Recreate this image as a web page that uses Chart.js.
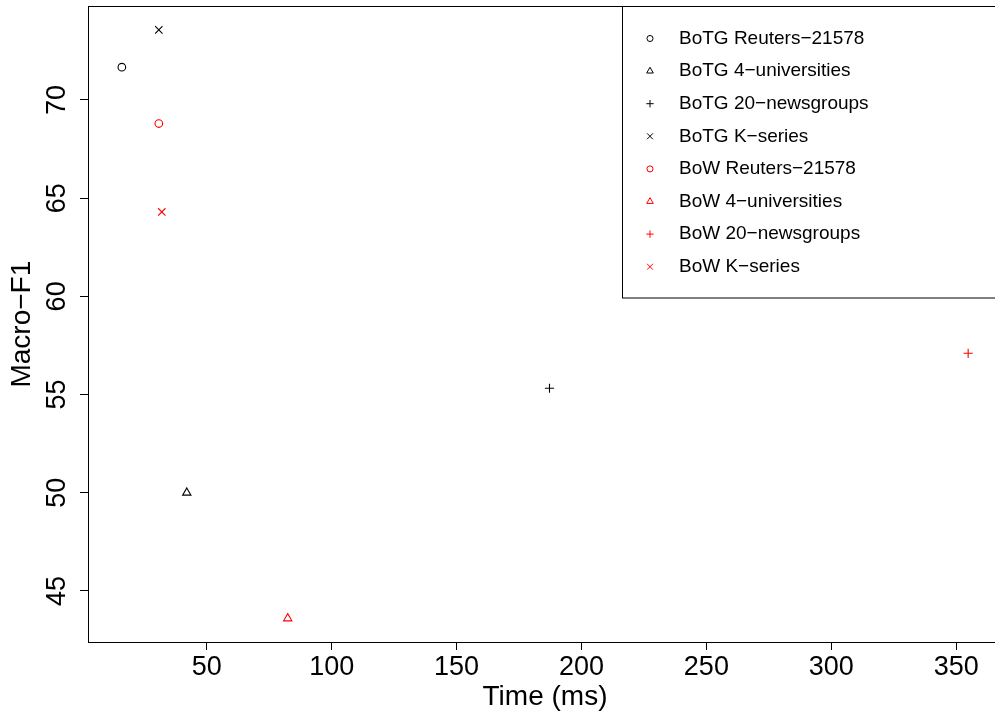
<!DOCTYPE html>
<html>
<head>
<meta charset="utf-8">
<script src="https://cdn.jsdelivr.net/npm/chart.js@4/dist/chart.umd.min.js"></script>
<style>
  html, body { margin: 0; padding: 0; background: #fff; overflow: hidden; }
  #wrap { width: 1010px; height: 714px; }
</style>
</head>
<body>
<div id="wrap"><canvas id="chart" width="1010" height="714"></canvas></div>
<script>
// Data
const SERIES = [
  'BoTG Reuters\u221221578',
  'BoTG 4\u2212universities',
  'BoTG 20\u2212newsgroups',
  'BoTG K\u2212series',
  'BoW Reuters\u221221578',
  'BoW 4\u2212universities',
  'BoW 20\u2212newsgroups',
  'BoW K\u2212series'
];
const TIME_MS = [16, 42, 187.2, 30.8, 30.8, 82.4, 354.8, 32];
const MACRO_F1 = [71.67, 50.0, 55.32, 73.57, 68.8, 43.6, 57.1, 64.3];
const X_TICKS = [50, 100, 150, 200, 250, 300, 350];
const Y_TICKS = [45, 50, 55, 60, 65, 70];

// Marker styles (R pch 1, 2, 3, 4 in black and red)
const STYLES = ['circle', 'triangle', 'cross', 'crossRot'];
const RADII = { circle: 3.8, triangle: 4.8, cross: 4.6, crossRot: 5.2 };
const COLORS = ['#000000', '#ff0000'];

const FONT = "'Liberation Sans', Arial, Helvetica, sans-serif";

const datasets = SERIES.map((name, i) => {
  const style = STYLES[i % 4];
  return {
    label: name,
    data: [{ x: TIME_MS[i], y: MACRO_F1[i] }],
    pointStyle: style,
    pointRadius: RADII[style],
    pointHoverRadius: RADII[style],
    borderColor: COLORS[Math.floor(i / 4)],
    backgroundColor: 'rgba(0,0,0,0)',
    pointBorderWidth: 1.1,
    showLine: false
  };
});

// Box around the plot region
const boxPlugin = {
  id: 'plotBox',
  afterDatasetsDraw(chart) {
    const { ctx, chartArea: a } = chart;
    ctx.save();
    ctx.strokeStyle = '#000';
    ctx.lineWidth = 1;
    ctx.strokeRect(Math.round(a.left) + 0.5, Math.round(a.top) + 0.5,
      Math.round(a.right - a.left), Math.round(a.bottom - a.top));
    ctx.restore();
  }
};

// R style legend in the top right corner
const legendPlugin = {
  id: 'rLegend',
  afterDraw(chart) {
    const { ctx, chartArea: a } = chart;
    const left = 622, bottom = 297.5;
    const symX = 650, textX = 679, rowY = 38.5, step = 32.6;
    ctx.save();
    ctx.fillStyle = '#fff';
    ctx.fillRect(left, a.top, a.right - left, bottom - a.top);
    ctx.strokeStyle = '#000';
    ctx.lineWidth = 1;
    ctx.strokeRect(left + 0.5, Math.round(a.top) + 0.5, a.right - left, bottom - Math.round(a.top));
    chart.data.datasets.forEach((ds, i) => {
      const y = rowY + i * step;
      ctx.strokeStyle = ds.borderColor;
      ctx.fillStyle = 'rgba(0,0,0,0)';
      ctx.lineWidth = 1;
      Chart.helpers.drawPoint(ctx, {
        pointStyle: ds.pointStyle,
        radius: ds.pointRadius * 0.8,
        rotation: 0,
        borderWidth: 1
      }, symX, y);
      ctx.fillStyle = '#000';
      ctx.font = '19px ' + FONT;
      ctx.textAlign = 'left';
      ctx.textBaseline = 'middle';
      ctx.fillText(ds.label, textX, y);
    });
    ctx.restore();
  }
};

new Chart(document.getElementById('chart'), {
  type: 'scatter',
  data: { datasets },
  plugins: [boxPlugin, legendPlugin],
  options: {
    responsive: false,
    animation: false,
    layout: { padding: { top: 5, right: 8, left: 0, bottom: 0 } },
    plugins: { legend: { display: false }, tooltip: { enabled: false } },
    scales: {
      x: {
        type: 'linear',
        min: 2.45,
        max: 368.35,
        afterBuildTicks(scale) { scale.ticks = X_TICKS.map(v => ({ value: v })); },
        afterFit(scale) {
          scale.height = 72;
          scale.paddingLeft = 0; scale.paddingRight = 0;
        },
        border: { display: false },
        grid: { drawOnChartArea: false, drawTicks: true, tickLength: 8, color: '#000', lineWidth: 1 },
        ticks: {
          autoSkip: false, maxRotation: 0, minRotation: 0, padding: 1,
          color: '#000', font: { family: FONT, size: 27 }
        },
        title: {
          display: true, text: 'Time (ms)', color: '#000',
          font: { family: FONT, size: 28, lineHeight: 1 },
          padding: { top: 0, bottom: 3 }
        }
      },
      y: {
        type: 'linear',
        min: 42.4,
        max: 74.77,
        afterBuildTicks(scale) { scale.ticks = Y_TICKS.map(v => ({ value: v })); },
        afterFit(scale) {
          scale.width = 88;
          scale.paddingTop = 0; scale.paddingBottom = 0;
        },
        border: { display: false },
        grid: { drawOnChartArea: false, drawTicks: true, tickLength: 8, color: '#000', lineWidth: 1 },
        ticks: {
          autoSkip: false, minRotation: 90, maxRotation: 90, crossAlign: 'center', padding: 7,
          color: '#000', font: { family: FONT, size: 27 }
        },
        title: {
          display: true, text: 'Macro\u2212F1', color: '#000',
          font: { family: FONT, size: 28, lineHeight: 1 },
          padding: { top: 8, bottom: 0 }
        }
      }
    }
  }
});
</script>
</body>
</html>
